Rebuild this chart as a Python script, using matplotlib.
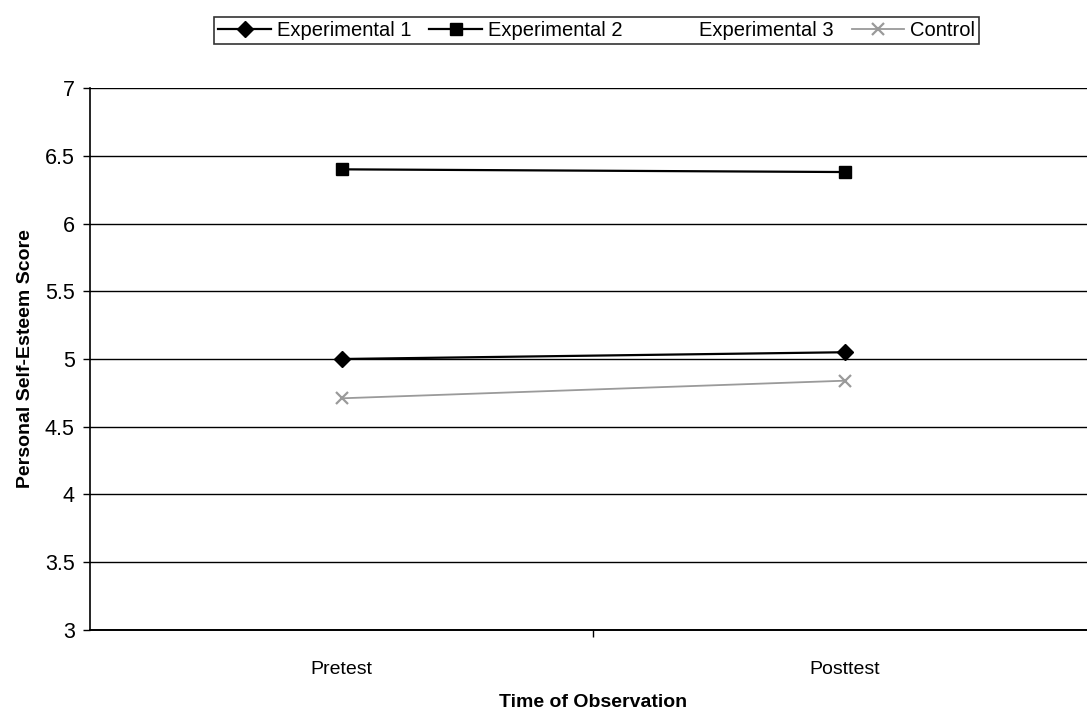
import matplotlib
matplotlib.use('Agg')
import matplotlib.pyplot as plt
import numpy as np

plt.rcParams['font.family'] = ['Liberation Sans', 'DejaVu Sans']

# ── data ──
times = ['Pretest', 'Posttest']
exp1 = [5.00, 5.05]
exp2 = [6.40, 6.38]
exp3 = [np.nan, np.nan]   # not visible in the original
control = [4.71, 4.84]

x = np.arange(len(times))

fig = plt.figure(figsize=(10.87, 7.10), dpi=100)
ax = fig.add_axes([0.0828, 0.1127, 0.9262, 0.7633])

ax.plot(x, exp1, '-', color='black', marker='D', markersize=8, linewidth=1.6, label='Experimental 1')
ax.plot(x, exp2, '-', color='black', marker='s', markersize=8, linewidth=1.6, label='Experimental 2')
ax.plot(x, exp3, '-', color='white', linewidth=1.6, label='Experimental 3')
ax.plot(x, control, '-', color='#9a9a9a', marker='x', markersize=9, markeredgewidth=1.6,
        linewidth=1.3, label='Control')

ax.set_xlim(-0.5, 1.5)
ax.set_ylim(3, 7)
ax.set_yticks(np.arange(3, 7.01, 0.5))
ax.set_yticklabels(['3', '3.5', '4', '4.5', '5', '5.5', '6', '6.5', '7'])
ax.set_xticks(x)
ax.set_xticklabels(times)
ax.set_xticks([0.5], minor=True)
ax.tick_params(axis='x', which='major', length=0, pad=22, labelsize=14)
ax.tick_params(axis='x', which='minor', length=5, width=1, direction='out')
ax.tick_params(axis='y', length=5, width=1, labelsize=15.5, pad=6)

ax.grid(True, axis='y', color='black', linewidth=1.0)
ax.set_axisbelow(True)
for s in ['top', 'right']:
    ax.spines[s].set_visible(False)
ax.spines['left'].set_linewidth(1.2)
ax.spines['bottom'].set_linewidth(1.4)

ax.set_xlabel('Time of Observation', fontsize=14, fontweight='bold', labelpad=12)
ax.set_ylabel('Personal Self-Esteem Score', fontsize=14, fontweight='bold', labelpad=8)

leg = fig.legend(loc='upper center', bbox_to_anchor=(0.549, 0.99), ncol=4, fontsize=14.5,
                 frameon=True, fancybox=False, edgecolor='black', handlelength=2.6,
                 handletextpad=0.3, columnspacing=0.9, borderpad=0.2)
leg.get_frame().set_linewidth(1.2)

fig.savefig('out.png', dpi=100, facecolor='white')
